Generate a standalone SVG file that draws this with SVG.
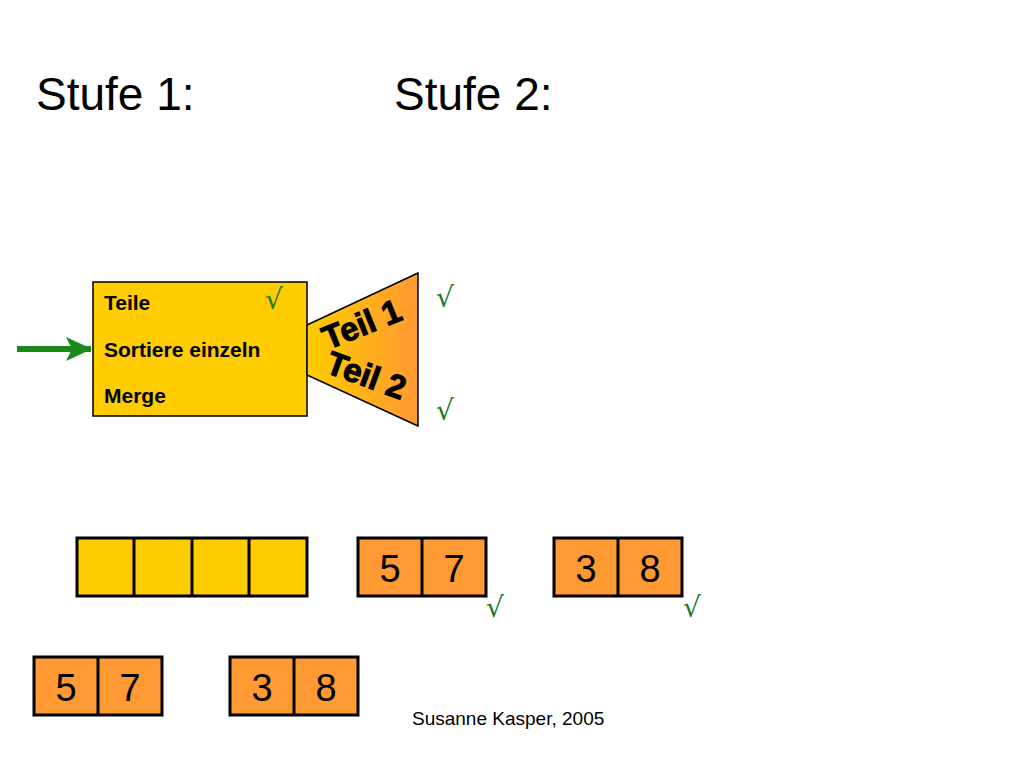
<svg xmlns="http://www.w3.org/2000/svg" width="1024" height="768" viewBox="0 0 1024 768">
<style>
.t{font-family:"Liberation Sans",Arial,sans-serif}
.b{font-weight:bold;font-size:21px}
.ck{fill:#1a7a1a;font-family:"DejaVu Serif",serif;font-size:28px}
.cell{stroke:#000;stroke-width:3}
.num{font-family:"Liberation Sans",Arial,sans-serif;font-size:38px;text-anchor:middle}
</style>
<defs>
<linearGradient id="g" x1="0" y1="0" x2="1" y2="0"><stop offset="0" stop-color="#ffcc00"/><stop offset="1" stop-color="#ff9933"/></linearGradient>
<marker id="ah" markerWidth="26" markerHeight="24" refX="25" refY="12" orient="auto" markerUnits="userSpaceOnUse" viewBox="0 0 26 24"><path d="M0,0 L26,12 L0,24 L6,12 Z" fill="#1a8a1a"/></marker>
</defs>
<rect width="1024" height="768" fill="#fff"/>
<text class="t" x="36" y="110" font-size="46">Stufe 1:</text>
<text class="t" x="394" y="110" font-size="46">Stufe 2:</text>
<g id="box">
<rect x="93" y="282" width="214" height="134" fill="#ffcc00" stroke="#000" stroke-width="1.5"/>
<text class="t b" x="104" y="310">Teile</text>
<text class="t b" x="104" y="357">Sortiere einzeln</text>
<text class="t b" x="104" y="403">Merge</text>
<text class="ck" x="265" y="309">√</text>
</g>
<g id="funnel">
<polygon points="307,325 418,273 418,426 307,375" fill="url(#g)" stroke="#000" stroke-width="1.5"/>
<text class="t" font-weight="900" font-size="33" stroke="#000" stroke-width="1" transform="translate(328,350) rotate(-22)">Teil 1</text>
<text class="t" font-weight="900" font-size="33" stroke="#000" stroke-width="1" transform="translate(324,372) rotate(20)">Teil 2</text>
<text class="ck" x="436" y="307">√</text>
<text class="ck" x="436" y="420">√</text>
</g>
<g id="connectors">
<line x1="17" y1="349" x2="91" y2="349" stroke="#1a8a1a" stroke-width="6" marker-end="url(#ah)"/>
</g>
<g id="empty">
<rect class="cell" x="77" y="538" width="230" height="58" fill="#ffcc00"/>
<line class="cell" x1="134" y1="538" x2="134" y2="596"/>
<line class="cell" x1="192" y1="538" x2="192" y2="596"/>
<line class="cell" x1="249" y1="538" x2="249" y2="596"/>
</g>
<g id="a57">
<rect class="cell" x="358" y="538" width="128" height="58" fill="#ff9933"/>
<line class="cell" x1="422" y1="538" x2="422" y2="596"/>
<text class="num" x="390" y="582">5</text><text class="num" x="454" y="582">7</text>
<text class="ck" x="486" y="617">√</text>
</g>
<g id="a38">
<rect class="cell" x="554" y="538" width="128" height="58" fill="#ff9933"/>
<line class="cell" x1="618" y1="538" x2="618" y2="596"/>
<text class="num" x="586" y="582">3</text><text class="num" x="650" y="582">8</text>
<text class="ck" x="683" y="617">√</text>
</g>
<g id="b57">
<rect class="cell" x="34" y="657" width="128" height="58" fill="#ff9933"/>
<line class="cell" x1="98" y1="657" x2="98" y2="715"/>
<text class="num" x="66" y="701">5</text><text class="num" x="130" y="701">7</text>
</g>
<g id="b38">
<rect class="cell" x="230" y="657" width="128" height="58" fill="#ff9933"/>
<line class="cell" x1="294" y1="657" x2="294" y2="715"/>
<text class="num" x="262" y="701">3</text><text class="num" x="326" y="701">8</text>
</g>
<text class="t" x="412" y="725" font-size="19">Susanne Kasper, 2005</text>
</svg>
